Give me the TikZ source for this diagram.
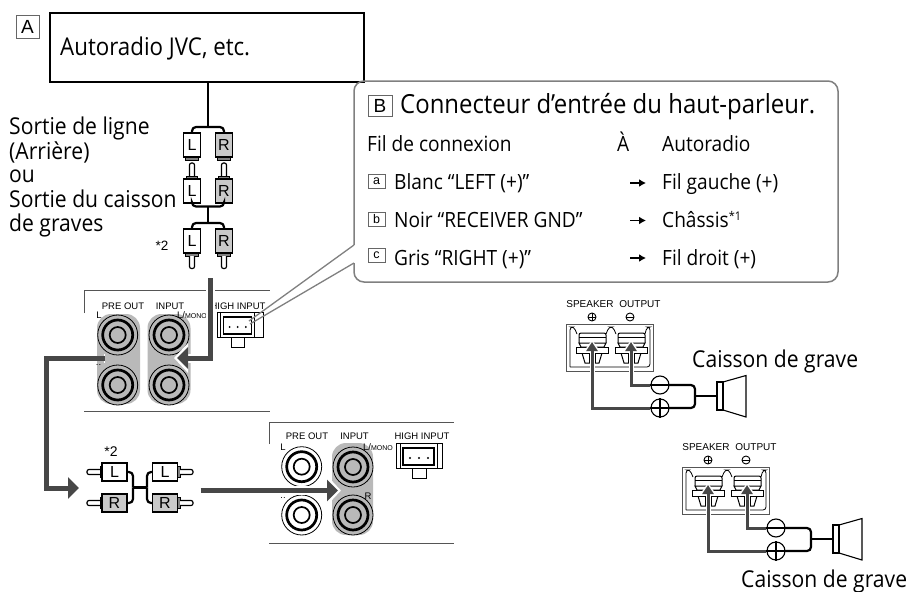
\documentclass[tikz,border=0pt]{standalone}
\usepackage{fontspec}
\setmainfont[FakeStretch=0.91]{Open Sans}
\newfontfamily\arialf{Liberation Sans}
\usetikzlibrary{arrows.meta,shapes.geometric}
\definecolor{pillgrey}{HTML}{B9B9B9}
\definecolor{rgrey}{HTML}{C9C9C9}
\definecolor{heavy}{HTML}{474747}
\definecolor{panelline}{HTML}{555555}
\tikzset{
  txt/.style={anchor=base west,inner sep=0,font=\fontsize{23.2}{24}\selectfont},
  txtb/.style={anchor=base west,inner sep=0,font=\fontsize{24.5}{24}\selectfont},
  txtt/.style={anchor=base west,inner sep=0,font=\fontsize{26.3}{27.5}\selectfont},
  txtr/.style={anchor=base west,inner sep=0,font=\fontsize{21}{21}\selectfont},
  txtc/.style={anchor=base west,inner sep=0,font=\fontsize{23.2}{25}\selectfont},
  lab/.style={anchor=base,inner sep=0,font=\arialf\fontsize{9.5}{10}\selectfont},
  slab/.style={anchor=base,inner sep=0,font=\arialf\fontsize{10}{10}\selectfont},
  tagbox/.style={draw=black!60,line width=.8,inner sep=0,font=\arialf\fontsize{19}{19}\selectfont,fill=white},
  smalltag/.style={draw=black!60,line width=.8,inner sep=0,minimum width=17,minimum height=14,font=\arialf\fontsize{12.5}{12}\selectfont},
  plugbody/.style={draw=black,line width=1.2,inner sep=0,font=\arialf\fontsize{16}{16}\selectfont},
  wire/.style={draw=black,line width=2.2,rounded corners=4},
  part/.style={draw=black,line width=1},
  panel/.style={draw=panelline,line width=1},
  pill/.style={draw=none,fill=pillgrey,rounded corners=14,inner sep=0},
  heavyline/.style={draw=heavy,line width=5,-{Triangle[length=11,width=21,fill=heavy]}},
  halo/.style={draw=white,line width=9,shorten >=-3,-{Triangle[length=14,width=29,fill=white]}},
  spkline/.style={draw=heavy,line width=3,-{Triangle[length=9,width=11,fill=heavy]}},
  spkhalo/.style={draw=white,line width=5,shorten >=-2,-{Triangle[length=11,width=15,fill=white]}},
  tablearrow/.style={draw=black,line width=1.5,-{Latex[length=7,width=8]}},
}
\newcommand\vplug[5]{\node[plugbody,minimum width=17,minimum height=24,fill=#5] (#1) at (#2,#3) {#4};}
\newcommand\hplug[5]{\node[plugbody,minimum width=25,minimum height=18,fill=#5] (#1) at (#2,#3) {#4};}
\newcommand\socketring[3]{%
  \node[circle,draw=black,line width=.8,minimum size=40,inner sep=0,fill=#3] (#1) at (#2) {};
  \node[circle,draw=black,line width=2.7,minimum size=30,inner sep=0,fill=#3] at (#2) {};
  \node[circle,draw=black,line width=1.7,minimum size=16,inner sep=0,fill=#3] at (#2) {};}
\newcommand\hiconn[4]{% name, x, y, xscale
  \begin{scope}[shift={(#2,#3)},xscale=#4]
    \node[minimum width=46,minimum height=25,inner sep=0,draw=black,line width=.9,anchor=north west] (#1) at (0,0) {};
    \draw[part,line width=.7] (4,0) -- (4,25) (41,0) -- (41,25);
    \draw[part,line width=1.2,fill=white] (7,5) rectangle (38,22);
    \draw[part,line width=.9,fill=white] (16,25) rectangle (30,35);
    \fill (14,15) circle (1.1) (23,15) circle (1.1) (32,15) circle (1.1);
  \end{scope}}
\newcommand\terminal[1]{%
  \begin{scope}[shift={(#1,0)}]
    \draw[part,fill=white,rounded corners=2] (-13,343) -- (-13,333) -- (14,333) -- (14,343);
    \draw[part] (-13,337) -- (14,337);
    \draw[part,fill=white] (-10,353) -- (-7,363) -- (7,363) -- (10,353);
    \draw[part] (-3,353) -- (-3,363) (3,353) -- (3,363);
    \draw[part,fill=white] (-16,347) rectangle (16,353);
    \draw[part,fill=white] (-13,343) -- (14,343) -- (12,347) -- (-11,347) -- cycle;
  \end{scope}}
\newcommand\speaker[3]{% prefix, dx, dy
  \begin{scope}[shift={(#2,#3)}]
    \node[slab] (#1sp) at (590,307.5) {SPEAKER};
    \node[slab] (#1ou) at (640,307.5) {OUTPUT};
    \node[circle,draw=black,line width=.9,minimum size=8,inner sep=0] (#1sa) at (592,317) {};
    \draw[line width=.8] (#1sa.west) -- (#1sa.east) (#1sa.north) -- (#1sa.south);
    \node[circle,draw=black,line width=.9,minimum size=8,inner sep=0] (#1sb) at (630,317) {};
    \draw[line width=1] (#1sb.west) -- (#1sb.east);
    \node[draw=panelline,line width=1.2,minimum width=87,minimum height=47,inner sep=0] (#1box) at (610,348) {};
    \draw[part,line width=.8,rounded corners=3] (570,367) -- (570,327) -- (574,327) -- (577,334) (606,334) -- (609,327) -- (613,327) -- (616,334) (645,334) -- (647,327) -- (650,327) -- (650,367) -- (570,367);
    \terminal{592}\terminal{631}
    \node[circle,draw=black,line width=1.1,minimum size=18,inner sep=0,fill=white] (#1cm) at (660,385) {};
    \draw[line width=1.1] (#1cm.west) -- (#1cm.east);
    \node[circle,draw=black,line width=1.1,minimum size=18,inner sep=0,fill=white] (#1cp) at (660,408) {};
    \draw[line width=1.1] (#1cp.west) -- (#1cp.east) (#1cp.north) -- (#1cp.south);
    \coordinate (#1tp) at (592,342);
    \coordinate (#1tm) at (631,342);
    \draw[spkhalo] (#1cp.west) -| (#1tp);
    \draw[spkhalo] (#1cm.west) -| (#1tm);
    \draw[spkline] (#1cp.west) -| (#1tp);
    \draw[spkline] (#1cm.west) -| (#1tm);
    \draw[part,line width=1.1,fill=white] (717,382) rectangle (723,410);
    \node[draw=none,minimum width=6,minimum height=28,inner sep=0] (#1sk) at (720,396) {};
    \draw[part,line width=1.1] (723,382) -- (746,375.5) -- (746,417) -- (723,410);
    \coordinate (#1j) at (695,396);
    \draw[wire] (#1cm.east) -| (#1j);
    \draw[wire] (#1cp.east) -| (#1j);
    \draw[wire] (#1j) -- (#1sk.west);
  \end{scope}}
\begin{document}
\begin{tikzpicture}[x=1pt,y=-1pt]
\useasboundingbox[fill=white] (0,0) rectangle (911,592);
% A
\node[tagbox,minimum width=23,minimum height=23] (tagA) at (27.5,26.5) {A};
\node[draw=black,line width=2,minimum width=314,minimum height=69,inner sep=0] (radio) at (207,47.5) {};
\node[txtb] (radiotxt) at (60,55) {Autoradio JVC, etc.};
% left labels
\node[txt] (t1) at (9,134) {Sortie de ligne};
\node[txt] (t2) at (9,159) {(Arrière)};
\node[txt] (t3) at (9,182) {ou};
\node[txt] (t4) at (9,207) {Sortie du caisson};
\node[txt] (t5) at (9,231) {de graves};
\node[lab,font=\arialf\fontsize{13.5}{13.5}\selectfont] (st1) at (162,250) {*2};
% plugs vertical
\foreach \x in {192,224}{
  \draw[part,fill=gray] (\x-6.5,157) rectangle (\x+6.5,160);
  \draw[part,line width=1.2,rounded corners=2,fill=white] (\x-2.5,176) -- (\x-2.5,163) -- (\x+2.5,163) -- (\x+2.5,176);
  \draw[part,fill=gray] (\x-5.5,176) rectangle (\x+5.5,179);
  \draw[part,fill=gray] (\x-6.5,253) rectangle (\x+6.5,256);
  \draw[part,line width=1.2,rounded corners=2,fill=white] (\x-2.5,256) -- (\x-2.5,268.5) -- (\x+2.5,268.5) -- (\x+2.5,256);
}
\vplug{pa}{192}{145}{L}{white}
\vplug{pb}{224}{145}{R}{rgrey}
\vplug{pc}{192}{191}{L}{white}
\vplug{pd}{224}{191}{R}{rgrey}
\vplug{pe}{192}{241}{L}{white}
\vplug{pf}{224}{241}{R}{rgrey}
\coordinate (j1) at (208,127);
\coordinate (j2) at (208,206.5);
\coordinate (j3) at (208,223);
\draw[wire] (radio.south -| j1) -- (j1);
\draw[wire] (pa.north) |- (j1) -| (pb.north);
\draw[wire] (pc.south) |- (j2) -| (pd.south);
\draw[wire] (j2) -- (j3);
\draw[wire] (pe.north) |- (j3) -| (pf.north);
% panel 1
\draw[panel] (84,313) -- (84,290) -- (270,290);
\draw[panel] (84,411) -- (270,411);
\node[pill,minimum width=43,minimum height=90] (pillA) at (118.5,359) {};
\node[pill,minimum width=43,minimum height=90] (pillB) at (169,359) {};
\socketring{s1}{117.7,335}{pillgrey}
\socketring{s2}{117.7,385}{pillgrey}
\socketring{s3}{169,335}{pillgrey}
\socketring{s4}{169,385}{pillgrey}
\node[lab] (l1) at (123,309) {PRE OUT};
\node[lab] (l2) at (170,309) {INPUT};
\node[lab] (l3) at (238,309) {HIGH INPUT};
\node[lab] (l4) at (99,318) {L};
\node[lab] (l5) at (192,318) {L/{\fontsize{7}{7}\selectfont MONO}};
\node[lab] (l6) at (98.5,365) {..};
\hiconn{hiA}{217}{312}{0.9}
% panel 2
\draw[panel] (269,444) -- (269,422) -- (454,422);
\draw[panel] (269,543) -- (454,543);
\node[pill,minimum width=41,minimum height=92] (pillC) at (352.5,489) {};
\socketring{s5}{301.7,466.7}{white}
\socketring{s6}{301.7,515}{white}
\socketring{s7}{353,467}{pillgrey}
\socketring{s8}{353,515}{pillgrey}
\node[lab] (l7) at (307,439) {PRE OUT};
\node[lab] (l8) at (354.5,439) {INPUT};
\node[lab] (l9) at (422,439) {HIGH INPUT};
\node[lab] (l10) at (283,450) {L};
\node[lab] (l11) at (378,450) {L/{\fontsize{7}{7}\selectfont MONO}};
\node[lab] (l12) at (368,499) {R};
\node[lab] (l13) at (283,498) {..};
\hiconn{hiB}{396}{443}{1}
% horizontal plugs
\foreach \y in {472,503}{
  \draw[part,line width=1.2,rounded corners=2,fill=white] (100,\y-2.5) -- (87,\y-2.5) -- (87,\y+2.5) -- (100,\y+2.5);
  \draw[part,fill=gray] (100,\y-5.5) rectangle (102.5,\y+5.5);
  \draw[part,fill=gray] (177,\y-5.5) rectangle (180,\y+5.5);
  \draw[part,line width=1.2,rounded corners=2,fill=white] (180,\y-2.5) -- (193,\y-2.5) -- (193,\y+2.5) -- (180,\y+2.5);
}
\hplug{ha}{114.5}{472}{L}{white}
\hplug{hb}{114.5}{503}{R}{rgrey}
\hplug{hc}{165}{472}{L}{white}
\hplug{hd}{165}{503}{R}{rgrey}
\coordinate (j4) at (133,487.5);
\coordinate (j5) at (147,487.5);
\draw[wire] (ha.east) -| (j4);
\draw[wire] (hb.east) -| (j4);
\draw[wire] (hc.west) -| (j5);
\draw[wire] (hd.west) -| (j5);
\draw[wire] (j4) -- (j5);
\node[lab,font=\arialf\fontsize{14}{14}\selectfont] (st2) at (111,456) {*2};
% heavy arrows
\coordinate (a1) at (210.5,278);
\coordinate (a1b) at (210.5,358);
\coordinate (a1t) at (177,358);
\coordinate (a2) at (105,358);
\coordinate (a2b) at (46,358);
\coordinate (a2c) at (46,488);
\coordinate (a2t) at (79,488);
\coordinate (a3) at (200.5,490.5);
\coordinate (a3t) at (338,490.5);
\draw[halo] (a1) -- (a1b) -- (a1t);
\draw[heavyline] (a1) -- (a1b) -- (a1t);
\draw[draw=white,line width=9] (a2) -- ++(-1,0);
\draw[heavyline] (a2) -- (a2b) -- (a2c) -- (a2t);
\draw[halo] (a3) -- (a3t);
\draw[heavyline] (a3) -- (a3t);
% callout
\coordinate (p1) at (354,245);
\coordinate (p2) at (354,263);
\coordinate (p3) at (249,321);
\coordinate (p4) at (250,324);
\node[draw=black!50,line width=1.5,rounded corners=10,minimum width=484,minimum height=201,inner sep=0] (callout) at (596,181.5) {};
\draw[white,line width=3] (p1) -- (p2);
\draw[draw=black!50,line width=1.3] (p1) -- (p3);
\draw[draw=black!50,line width=1.3] (p2) -- (p4);
\node[tagbox,minimum width=24,minimum height=21] (tagB) at (380,105.5) {B};
\node[txtt] (title) at (400,113) {Connecteur d’entrée du haut-parleur.};
\node[txtr] (h1) at (367,151) {Fil de connexion};
\node[txtr] (h2) at (617,151) {À};
\node[txtr] (h3) at (662,151) {Autoradio};
\node[smalltag] (ta) at (376.5,181.5) {a};
\node[smalltag] (tb) at (376.5,219.5) {b};
\node[smalltag] (tc) at (376.5,255.5) {c};
\node[txtr] (r1) at (394,189) {Blanc “LEFT (+)”};
\node[txtr] (r2) at (394,227) {Noir “RECEIVER GND”};
\node[txtr] (r3) at (394,265) {Gris “RIGHT (+)”};
\node[txtr] (c1) at (662,189) {Fil gauche (+)};
\node[txtr] (c2) at (662,227) {Châssis\raisebox{7pt}{\fontsize{12}{12}\selectfont *1}};
\node[txtr] (c3) at (662,265) {Fil droit (+)};
\coordinate (ar1a) at (630,183); \coordinate (ar1b) at (646,183);
\coordinate (ar2a) at (630,220.5); \coordinate (ar2b) at (646,220.5);
\coordinate (ar3a) at (630,258); \coordinate (ar3b) at (646,258);
\draw[tablearrow] (ar1a) -- (ar1b);
\draw[tablearrow] (ar2a) -- (ar2b);
\draw[tablearrow] (ar3a) -- (ar3b);
% speakers
\speaker{u}{0}{0}
\speaker{v}{116}{143}
\node[txtc] (cg1) at (692,367) {Caisson de grave};
\node[txtc] (cg2) at (741,587) {Caisson de grave};
\end{tikzpicture}
\end{document}
